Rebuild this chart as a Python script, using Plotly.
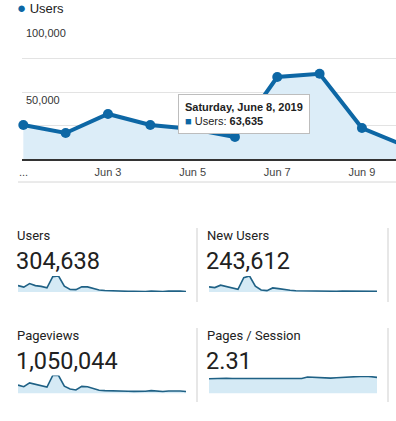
import plotly.graph_objects as go

W, H = 396, 421

# ---------------- data ----------------
main_dates = ['2019-06-01', '2019-06-02', '2019-06-03', '2019-06-04', '2019-06-05',
              '2019-06-06', '2019-06-07', '2019-06-08', '2019-06-09', '2019-06-10']
main_users = [25400, 19400, 33600, 25400, 22400, 16400, 61200, 63635, 23100, 10100]

x_tick_vals = ['2019-06-01', '2019-06-03', '2019-06-05', '2019-06-07', '2019-06-09']
x_tick_text = ['...', 'Jun 3', 'Jun 5', 'Jun 7', 'Jun 9']
y_tick_vals = [0, 25000, 50000, 75000, 100000]
y_tick_text = ['', '', '50,000', '', '100,000']

days = list(range(1, 31))
spark_users = [25400, 19400, 33600, 25400, 22400, 16400, 61200, 63635, 23100, 10100,
               9500, 21000, 20300, 13500, 8100, 6100, 4700, 4100, 3400, 2700,
               2700, 1400, 2000, 4100, 2700, 1400, 3400, 4700, 4100, 1400]
spark_new_users = [17300, 15000, 23000, 18400, 15000, 9200, 48300, 54000, 19500, 6900,
                   4600, 13800, 11500, 8000, 5800, 4000, 3500, 3200, 3000, 2800,
                   2600, 2400, 2500, 2800, 2600, 2400, 2700, 3000, 2800, 2300]
spark_pageviews = [91000, 73500, 115500, 98000, 84000, 70000, 196000, 196000, 80500, 49000,
                   38500, 77000, 73500, 52500, 35000, 31500, 28000, 26250, 24500, 24500,
                   22750, 21000, 24500, 31500, 26250, 21000, 28000, 31500, 28000, 21000]
spark_pps = [2.10, 2.15, 2.20, 2.18, 2.15, 2.15, 2.13, 2.10, 2.10, 2.08,
             2.05, 2.05, 2.05, 2.08, 2.10, 2.10, 2.15, 2.35, 2.30, 2.20,
             2.20, 2.20, 2.25, 2.30, 2.40, 2.45, 2.50, 2.48, 2.40, 2.30]

card_titles = ['Users', 'New Users', 'Pageviews', 'Pages / Session']
card_values = ['304,638', '243,612', '1,050,044', '2.31']

tooltip_title = 'Saturday, June 8, 2019'
legend_label = 'Users'

# ---------------- style ----------------
LINE = '#0d67a5'
FILL = '#dcedf8'
SP_LINE = '#1f6185'
SP_FILL = '#d5eaf5'
GRID = '#e3e3e3'
ARIAL = 'Liberation Sans, Arial, sans-serif'
ROBOTO = 'Roboto, Arial, sans-serif'


def px(x):
    return x / W


def py(y):
    return 1 - y / H


fig = go.Figure()

# main chart
fig.add_trace(go.Scatter(
    x=main_dates, y=main_users, mode='lines+markers',
    line=dict(color=LINE, width=4), marker=dict(color=LINE, size=10),
    fill='tozeroy', fillcolor=FILL, cliponaxis=False,
    hoverinfo='skip', showlegend=False, xaxis='x', yaxis='y'))

# sparklines
cards = [
    (spark_users, 'x2', 'y2', (18, 186), (276, 292)),
    (spark_new_users, 'x3', 'y3', (209, 377), (276, 292)),
    (spark_pageviews, 'x4', 'y4', (18, 186), (375.5, 393.5)),
    (spark_pps, 'x5', 'y5', (209, 377), (376, 393.5)),
]
for vals, xa, ya, _, _ in cards:
    fig.add_trace(go.Scatter(
        x=days, y=vals, mode='lines', line=dict(color=SP_LINE, width=1.6),
        fill='tozeroy', fillcolor=SP_FILL, hoverinfo='skip', showlegend=False,
        xaxis=xa, yaxis=ya))

layout = dict(
    width=W, height=H, margin=dict(l=0, r=0, t=0, b=0),
    paper_bgcolor='white', plot_bgcolor='white',
    xaxis=dict(domain=[px(22), 1],
               range=['2019-05-31 23:15', '2019-06-09 19:19'],
               tickvals=x_tick_vals[1:], ticktext=x_tick_text[1:], ticks='',
               showgrid=False, showline=True, linecolor='#333', linewidth=1.5,
               tickfont=dict(family=ARIAL, size=11, color='#444'),
               ticklabelstandoff=2, zeroline=False),
    yaxis=dict(domain=[py(159), py(25)], range=[0, 100000],
               tickvals=y_tick_vals, ticktext=y_tick_text,
               ticklabelposition='inside bottom', ticks='',
               showgrid=True, gridcolor=GRID, gridwidth=1, zeroline=False,
               tickfont=dict(family=ARIAL, size=11, color='#333'),
               ticklabelstandoff=1),
)
for i, (vals, xa, ya, (x0, x1), (yt, yb)) in enumerate(cards):
    n = xa[1:]
    layout['xaxis' + n] = dict(domain=[px(x0), px(x1)], range=[1, 30], visible=False,
                               anchor='y' + n)
    layout['yaxis' + n] = dict(domain=[py(yb), py(yt)], range=[0, max(vals)], visible=False,
                               anchor='x' + n)
fig.update_layout(**layout)

annotations = []
# truncated first tick label (drawn at the Jun 1 tick position)
annotations.append(dict(x=x_tick_vals[0], y=py(172), xref='x', yref='paper',
                        xanchor='center', yanchor='middle', showarrow=False,
                        text=x_tick_text[0], font=dict(family=ARIAL, size=11, color='#444')))
# legend
annotations.append(dict(x=px(15), y=py(8), xref='paper', yref='paper', xanchor='left',
                        yanchor='middle', showarrow=False,
                        text="<span style='color:%s;font-size:15px'>●</span> %s" % (LINE, legend_label),
                        font=dict(family=ARIAL, size=13, color='#222')))
# tooltip anchored to the Jun 8 point
annotations.append(dict(x=main_dates[7], y=main_users[7], xref='x', yref='y',
                        showarrow=True, arrowcolor='rgba(0,0,0,0)', ax=-76, ay=40,
                        align='left', bgcolor='white', bordercolor='#bdbdbd', borderwidth=1,
                        borderpad=6,
                        text="<b>%s</b><br><span style='color:%s'>■</span> Users: <b>%s</b>" % (
                            tooltip_title, LINE, f"{main_users[7]:,}"),
                        font=dict(family=ARIAL, size=11, color='#222')))
# scorecards
card_pos = [(17, 235, 261), (207, 235, 261), (17, 335, 361), (207, 335, 361)]
for (t, v), (x, yt, yv) in zip(zip(card_titles, card_values), card_pos):
    annotations.append(dict(x=px(x - 2), y=py(yt), xref='paper', yref='paper', xanchor='left',
                            yanchor='middle', showarrow=False, text=t,
                            font=dict(family=ROBOTO, size=13, color='#222')))
    annotations.append(dict(x=px(x - 3), y=py(yv), xref='paper', yref='paper', xanchor='left',
                            yanchor='middle', showarrow=False, text=v,
                            font=dict(family=ROBOTO, size=23.5, color='#212121')))
fig.update_layout(annotations=annotations)

shapes = [
    dict(type='line', xref='paper', yref='paper', x0=px(18), x1=1, y0=py(182), y1=py(182),
         line=dict(color='#d6d6d6', width=1)),
]
for xv in (197, 388):
    for (a, b) in ((228, 302), (328, 402)):
        shapes.append(dict(type='line', xref='paper', yref='paper', x0=px(xv), x1=px(xv),
                           y0=py(a), y1=py(b), line=dict(color='#cfcfcf', width=1)))
fig.update_layout(shapes=shapes)

fig.write_html('out.html', config={'displayModeBar': False},
               post_script="document.body.style.margin='0';document.body.style.padding='0';"
                           "document.body.style.overflow='hidden';")
